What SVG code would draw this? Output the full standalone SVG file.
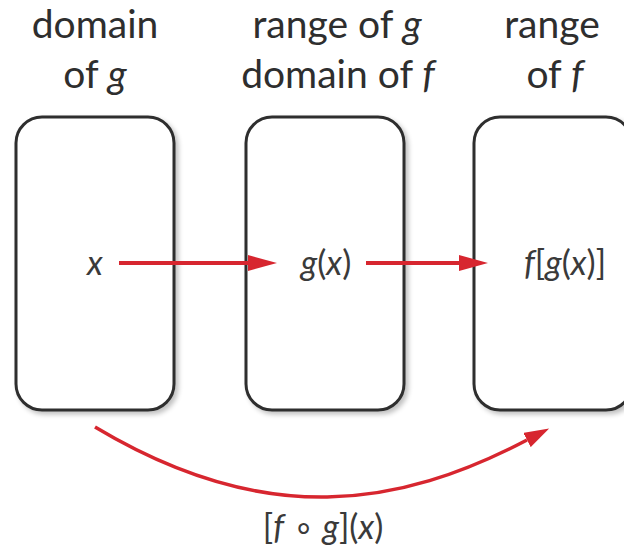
<svg xmlns="http://www.w3.org/2000/svg" width="624" height="550" viewBox="0 0 624 550">
<defs>
<style>
.hdr{font-family:Lato,"Open Sans","Liberation Sans",sans-serif;font-size:39px;fill:#2e2e2e;text-anchor:middle}
.lbl{font-family:Lato,"Open Sans","Liberation Sans",sans-serif;font-size:34px;fill:#3a3a3a;text-anchor:middle}
.it{font-style:italic}
.box{fill:#ffffff;stroke:#2f2f2f;stroke-width:3}
.arrow{fill:none;stroke:#d7262f;stroke-width:4}
.curve{fill:none;stroke:#d7262f;stroke-width:3.5}
</style>
<filter id="sh" x="-10%" y="-10%" width="130%" height="130%">
<feGaussianBlur in="SourceAlpha" stdDeviation="2.5"/>
<feOffset dx="3" dy="3" result="b"/>
<feComponentTransfer><feFuncA type="linear" slope="0.25"/></feComponentTransfer>
<feMerge><feMergeNode/><feMergeNode in="SourceGraphic"/></feMerge>
</filter>
<marker id="ah" markerUnits="userSpaceOnUse" markerWidth="30" markerHeight="16" refX="0" refY="8" orient="auto">
<path d="M0,0 L29,8 L0,16 z" fill="#d7262f"/>
</marker>
<marker id="ah2" markerUnits="userSpaceOnUse" markerWidth="26" markerHeight="16" refX="0" refY="8" orient="auto">
<path d="M0,0 L25,8 L0,16 z" fill="#d7262f"/>
</marker>
</defs>
<rect width="624" height="550" fill="#ffffff"/>

<g id="headers">
<text class="hdr" x="95" y="38">domain</text>
<text class="hdr" x="95" y="88">of <tspan class="it">g</tspan></text>
<text class="hdr" x="337" y="38">range of <tspan class="it">g</tspan></text>
<text class="hdr" x="338" y="88">domain of <tspan class="it">f</tspan></text>
<text class="hdr" x="552" y="38">range</text>
<text class="hdr" x="555" y="88">of <tspan class="it">f</tspan></text>
</g>

<g id="node-domain-g" filter="url(#sh)">
<rect class="box" x="16" y="117" width="158" height="293" rx="26"/>
</g>
<g id="node-range-g" filter="url(#sh)">
<rect class="box" x="246" y="117" width="158" height="293" rx="26"/>
</g>
<g id="node-range-f" filter="url(#sh)">
<rect class="box" x="474" y="117" width="158" height="293" rx="26"/>
</g>

<g id="connectors">
<line class="arrow" x1="119" y1="263" x2="248" y2="263" marker-end="url(#ah)"/>
<line class="arrow" x1="366" y1="263" x2="459" y2="263" marker-end="url(#ah)"/>
<path class="curve" d="M95,427 C266,529.5 399,507 527,440" marker-end="url(#ah2)"/>
</g>

<g id="labels">
<text class="lbl it" x="95" y="275">x</text>
<text class="lbl" x="326" y="275"><tspan class="it">g</tspan>(<tspan class="it">x</tspan>)</text>
<text class="lbl" x="565" y="275"><tspan class="it">f</tspan>[<tspan class="it">g</tspan>(<tspan class="it">x</tspan>)]</text>
<text class="lbl" x="323" y="539">[<tspan class="it">f</tspan> ∘ <tspan class="it">g</tspan>](<tspan class="it">x</tspan>)</text>
</g>
</svg>
